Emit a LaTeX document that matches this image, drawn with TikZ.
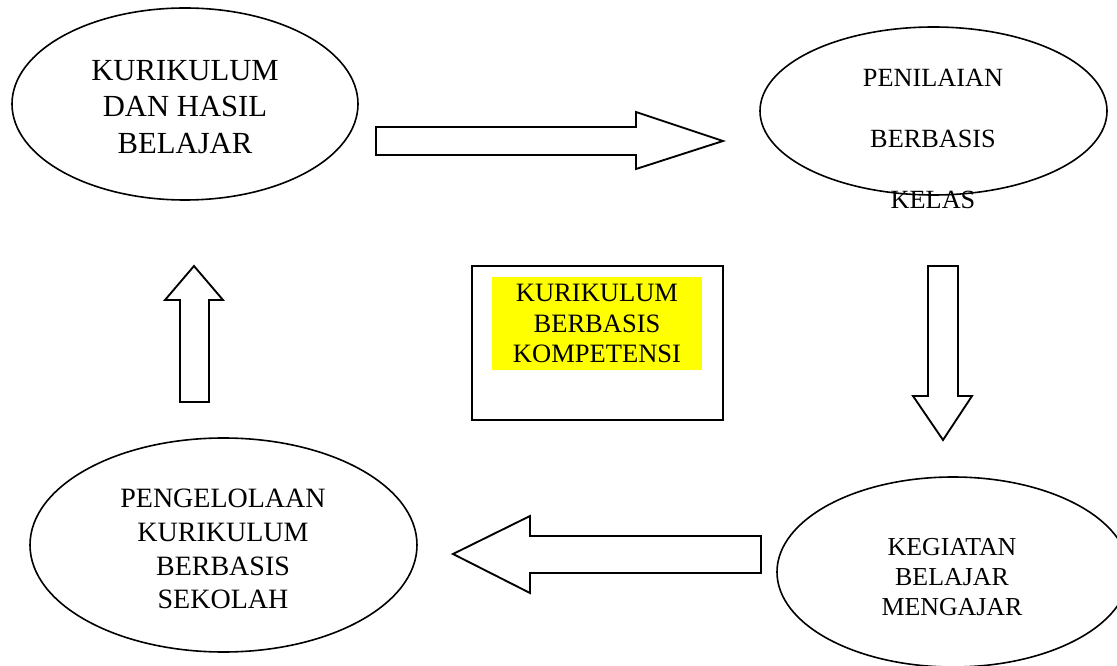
\documentclass[tikz,border=0pt]{standalone}
\usepackage{fontspec}
\setmainfont{Liberation Serif}
\usetikzlibrary{shapes.geometric,positioning}
\definecolor{kuning}{RGB}{255,255,0}
\tikzset{oval/.style={ellipse, draw, line width=1.2pt, inner sep=0pt},
         teks/.style={align=center, inner sep=0pt},
         panah/.style={draw, line width=1.4pt, fill=white, line join=miter}}
\tikzstyle{kotak}=[draw, line width=1.8pt, inner sep=0pt]

\begin{document}
\begin{tikzpicture}[x=0.75pt,y=-0.75pt]
   \clip (0,0) rectangle (1117,666);
   % elips
   \node[oval, minimum width=259.5pt, minimum height=144pt] (kurikulum) at (185,104) {};
   \node[oval, minimum width=260.25pt, minimum height=126pt] (penilaian) at (933.5,111) {};
   \node[oval, minimum width=290.25pt, minimum height=160.5pt] (pengelolaan) at (223.5,545) {};
   \node[oval, minimum width=264pt, minimum height=142.5pt] (kegiatan) at (953,572) {};
   \node[teks, font=\fontsize{23}{27.5}\selectfont] (kurikulum-teks) at (185,107)
     {KURIKULUM\\DAN HASIL\\BELAJAR};
   \node[teks, font=\fontsize{19.7}{45.75}\selectfont] (penilaian-teks) at (933,139)
     {PENILAIAN\\BERBASIS\\KELAS};
   \node[teks, font=\fontsize{21}{25.3}\selectfont] (pengelolaan-teks) at (223,549)
     {PENGELOLAAN\\KURIKULUM\\BERBASIS\\SEKOLAH};
   \node[teks, font=\fontsize{19.4}{22.5}\selectfont] (kegiatan-teks) at (952,577)
     {KEGIATAN\\BELAJAR\\MENGAJAR};
   % tengah
   \node[kotak, minimum width=188.25pt, minimum height=115.5pt] (kbk) at (597.5,343) {};
   \node[teks, fill=kuning, minimum width=157.5pt, minimum height=69.75pt,
     font=\fontsize{19.9}{23}\selectfont] (kbk-teks) at (597,323.5)
     {KURIKULUM\\BERBASIS\\KOMPETENSI};
   % panah blok
   \draw[panah] (376,127) -- (636,127) -- (636,112) -- (723,141) -- (636,169)
     -- (636,155) -- (376,155) -- cycle;
   \draw[panah] (928,266) -- (958,266) -- (958,396) -- (972,396) -- (943,440)
     -- (913,396) -- (928,396) -- cycle;
   \draw[panah] (761,536) -- (530,536) -- (530,516) -- (453,554) -- (530,593)
     -- (530,573) -- (761,573) -- cycle;
   \draw[panah] (180,402) -- (180,300) -- (165,300) -- (194,266) -- (223,300)
     -- (209,300) -- (209,402) -- cycle;
\end{tikzpicture}
\end{document}
